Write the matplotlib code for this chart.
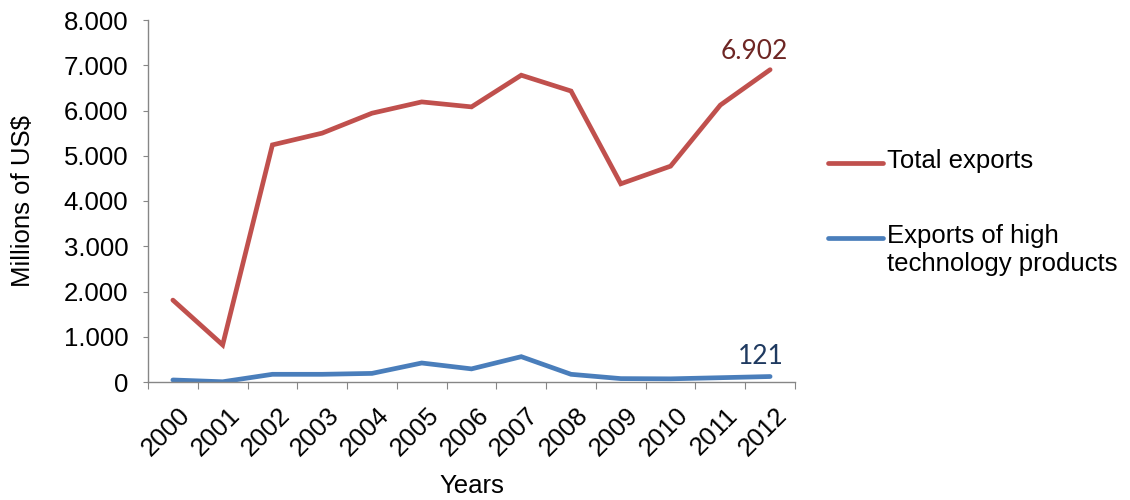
import matplotlib
matplotlib.use("Agg")
import matplotlib.pyplot as plt
from matplotlib.lines import Line2D
from matplotlib.transforms import ScaledTranslation

years = ["2000", "2001", "2002", "2003", "2004", "2005", "2006",
         "2007", "2008", "2009", "2010", "2011", "2012"]
total_exports = [1810, 820, 5240, 5500, 5940, 6190, 6080, 6780, 6430, 4380, 4770, 6120, 6902]
high_tech = [45, 5, 170, 170, 190, 420, 290, 560, 170, 75, 70, 95, 121]
series_names = ["Total exports", "Exports of high\ntechnology products"]
y_ticks = [0, 1000, 2000, 3000, 4000, 5000, 6000, 7000, 8000]
y_tick_labels = ["0", "1.000", "2.000", "3.000", "4.000", "5.000", "6.000", "7.000", "8.000"]

RED = "#C0504D"
BLUE = "#4A7EBB"
plt.rcParams["font.family"] = ["Liberation Sans", "DejaVu Sans"]
FS = 18.5

fig = plt.figure(figsize=(11.3, 5.0), dpi=100)
ax = fig.add_axes([148/1130, 118/500, (795-148)/1130, (382-20)/500])

x = list(range(len(years)))
ax.plot(x, total_exports, color=RED, lw=3.4, solid_capstyle="round", solid_joinstyle="miter")
ax.plot(x, high_tech, color=BLUE, lw=3.4, solid_capstyle="round", solid_joinstyle="miter")

ax.set_xlim(-0.5, len(years) - 0.5)
ax.set_ylim(0, 8000)
ax.set_yticks(y_ticks)
ax.set_yticklabels(y_tick_labels, fontsize=FS)

ax.set_xticks([i - 0.5 for i in range(len(years) + 1)])
ax.set_xticklabels([])
ax.set_xticks(x, minor=True)
ax.set_xticklabels(years, minor=True, rotation=45, ha="right", va="top",
                   rotation_mode="anchor", fontsize=FS)
ax.tick_params(axis="x", which="minor", length=0, pad=15)
ax.tick_params(axis="x", which="major", length=5, color="#868686", direction="out")
ax.tick_params(axis="y", length=3.6, color="#868686", direction="out", pad=10.5)
for lab in ax.get_xticklabels(minor=True):
    lab.set_transform(lab.get_transform() + ScaledTranslation(5/100, 0, fig.dpi_scale_trans))

for s in ["top", "right"]:
    ax.spines[s].set_visible(False)
for s in ["left", "bottom"]:
    ax.spines[s].set_color("#868686")
    ax.spines[s].set_linewidth(1.0)

ax.set_ylabel("Millions of US$", fontsize=FS)
ax.yaxis.set_label_coords((35-148)/647, 0.5)
ax.set_xlabel("Years", fontsize=FS)
ax.xaxis.set_label_coords((472-148)/647, (382-474)/362)

ax.annotate(f"{total_exports[-1]:,}".replace(",", "."), (x[-1], total_exports[-1]),
            xytext=(-11.5, 8), textcoords="offset points", ha="center", va="baseline",
            fontsize=19, color="#6E2624", family=["Lato", "DejaVu Sans"])
ax.annotate(f"{high_tech[-1]}", (x[-1], high_tech[-1]),
            xytext=(-7, 9), textcoords="offset points", ha="center", va="baseline",
            fontsize=19, color="#1F3A60", family=["Lato", "DejaVu Sans"])

# legend (manual, Excel-like)
for (ypix, name, col) in [(163, series_names[0], RED), (238, series_names[1], BLUE)]:
    yf = 1 - ypix/500
    fig.add_artist(Line2D([828/1130, 883/1130], [yf, yf], transform=fig.transFigure,
                          color=col, lw=3.4, solid_capstyle="round"))
    fig.text(887/1130, 1 - (ypix - 14)/500, name, fontsize=FS, va="top", ha="left",
             linespacing=1.22)

fig.savefig("out.png", dpi=100)
